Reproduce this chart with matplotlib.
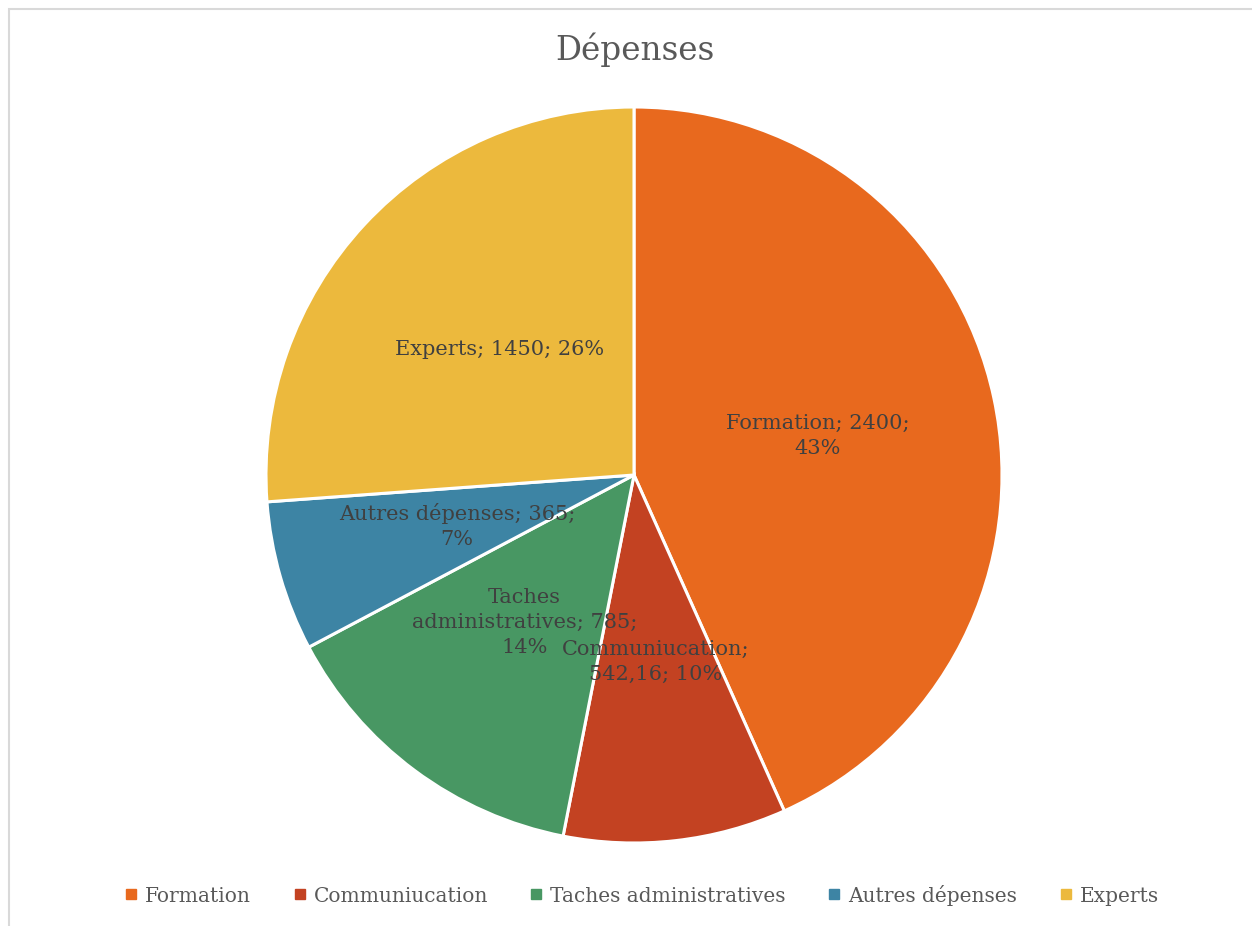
import matplotlib.pyplot as plt
import numpy as np
from matplotlib.lines import Line2D
from matplotlib.patches import Rectangle

categories = ["Formation", "Communiucation", "Taches administratives",
              "Autres dépenses", "Experts"]
values = [2400, 542.16, 785, 365, 1450]
colors = ["#E8691E", "#C34222", "#489763", "#3D84A4", "#ECB93D"]
# how Excel wrapped each data label
label_texts = ["Formation; 2400;\n43%",
               "Communiucation;\n542,16; 10%",
               "Taches\nadministratives; 785;\n14%",
               "Autres dépenses; 365;\n7%",
               "Experts; 1450; 26%"]
# label placement as fraction of radius
label_dist = [0.51, 0.51, 0.50, 0.50, 0.50]

plt.rcParams['font.family'] = ['DejaVu Serif']

W, H = 1252, 926
fig = plt.figure(figsize=(W / 100, H / 100), dpi=100)

# light chart-area border (cropped on right and bottom)
fig.patches.append(Rectangle((9 / W, -0.1), 1.2, 1 - 9 / H + 0.1,
                             transform=fig.transFigure, fill=False,
                             edgecolor="#D9D9D9", linewidth=1.5))

cx, cy, r = 634, 475, 368
ax = fig.add_axes([(cx - r) / W, (H - cy - r) / H, 2 * r / W, 2 * r / H])

wedges, _ = ax.pie(values, colors=colors, startangle=90, counterclock=False,
                   wedgeprops=dict(edgecolor="white", linewidth=2.2))
ax.set_xlim(-1, 1)
ax.set_ylim(-1, 1)

for w, txt, d in zip(wedges, label_texts, label_dist):
    ang = np.deg2rad((w.theta1 + w.theta2) / 2)
    ax.text(d * np.cos(ang), d * np.sin(ang), txt, ha="center", va="center",
            fontsize=15, color="#404040", linespacing=1.4)

fig.text(635 / W, 1 - 50 / H, "Dépenses", ha="center", va="center",
         fontsize=23.5, color="#595959")

handles = [Line2D([], [], marker="s", linestyle="none", markersize=7,
                  markerfacecolor=c, markeredgecolor=c) for c in colors]
fig.legend(handles, categories, loc="center",
           bbox_to_anchor=(642 / W, 1 - 895 / H),
           ncol=5, frameon=False, fontsize=14.5, labelcolor="#595959",
           handlelength=0.6, handletextpad=0.4, columnspacing=2.1)

fig.savefig("out.png", dpi=100)
